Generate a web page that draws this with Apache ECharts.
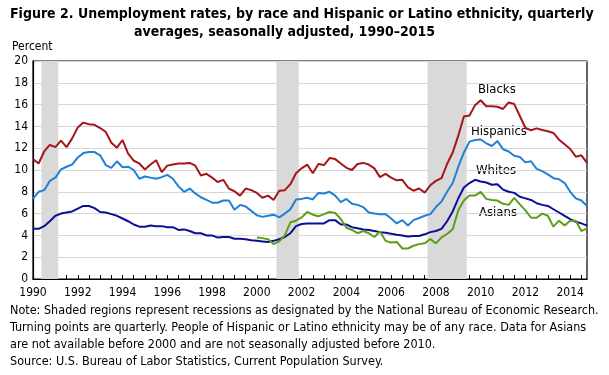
<!DOCTYPE html>
<html>
<head>
<meta charset="utf-8">
<script src="https://cdn.jsdelivr.net/npm/echarts@6/dist/echarts.min.js"></script>
<style>
  html, body { margin: 0; padding: 0; background: #fff; }
  #chart { width: 609px; height: 375px; }
</style>
</head>
<body>
<div id="chart"></div>
<script>
(function () {
  "use strict";
  const chart = echarts.init(document.getElementById("chart"));
  const FONT = "'Liberation Sans Narrow', 'DejaVu Sans Condensed', sans-serif";

  // quarterly averages, 1990 Q1 .. 2014 Q4 (100 quarters)
  const startYear = 1990;
  const yearTicks = [1990, 1992, 1994, 1996, 1998, 2000, 2002, 2004, 2006, 2008, 2010, 2012, 2014];
  const yTicks = [0, 2, 4, 6, 8, 10, 12, 14, 16, 18, 20];

  const blacks = [
    11.0, 10.6, 11.7, 12.3, 12.1, 12.7, 12.1, 12.9, 13.9, 14.35,
    14.2, 14.15, 13.85, 13.5, 12.5, 12.05, 12.75, 11.5, 10.85, 10.6,
    10.05, 10.5, 10.9, 9.8, 10.4, 10.5, 10.6, 10.6, 10.65, 10.4,
    9.5, 9.65, 9.3, 8.9, 9.1, 8.3,
    8.05, 7.65, 8.3, 8.15, 7.9, 7.45, 7.65, 7.25, 8.1, 8.15,
    8.7, 9.7, 10.15, 10.5, 9.7, 10.55, 10.45, 11.1, 11.0, 10.6,
    10.2, 10.0, 10.55, 10.65, 10.5, 10.15, 9.35, 9.65, 9.3, 9.05,
    9.1, 8.4, 8.1, 8.3,
    7.92, 8.6, 9.0, 9.25, 10.55, 11.6, 13.15, 14.9, 15.0, 15.95,
    16.4, 15.85, 15.85, 15.8, 15.6, 16.2, 16.05, 14.95, 13.85, 13.65,
    13.82, 13.67, 13.55, 13.4, 12.78, 12.36, 11.93, 11.22, 11.35, 10.65
  ];
  const hispanics = [
    7.35, 8.0, 8.15, 9.0, 9.3, 10.05, 10.3, 10.5, 11.15, 11.55,
    11.65, 11.65, 11.35, 10.45, 10.2, 10.8, 10.25, 10.3, 10.0, 9.2,
    9.4, 9.3, 9.2, 9.35, 9.55, 9.2, 8.5, 8.0, 8.3, 7.85,
    7.5, 7.25, 7.0, 7.0, 7.2, 7.2,
    6.35, 6.8, 6.65, 6.25, 5.85, 5.7, 5.8, 5.9, 5.65, 6.0,
    6.4, 7.3, 7.35, 7.45, 7.3, 7.9, 7.85, 8.0, 7.65, 7.05,
    7.35, 6.9, 6.8, 6.6, 6.1, 6.0, 5.95, 5.95, 5.55, 5.1,
    5.4, 4.9, 5.4, 5.6,
    5.8, 5.95, 6.6, 7.1, 8.0, 8.8, 10.3, 11.6, 12.6, 12.75,
    12.8, 12.45, 12.2, 12.65, 11.9, 11.7, 11.3, 11.2, 10.7, 10.8,
    10.1, 9.9, 9.6, 9.25, 9.15, 8.8, 8.0, 7.4, 7.2, 6.7
  ];
  const whites = [
    4.6, 4.6, 4.85, 5.3, 5.8, 6.0, 6.1, 6.2, 6.45, 6.7,
    6.7, 6.5, 6.15, 6.1, 5.95, 5.8, 5.55, 5.3, 5.0, 4.8,
    4.8, 4.9, 4.85, 4.85, 4.75, 4.75, 4.5, 4.55, 4.4, 4.2,
    4.2, 4.0, 4.0, 3.8, 3.85, 3.85,
    3.7, 3.7, 3.65, 3.55, 3.5, 3.45, 3.4, 3.5, 3.65, 3.85,
    4.2, 4.85, 5.05, 5.1, 5.1, 5.1, 5.1, 5.4, 5.4, 5.0,
    5.0, 4.75, 4.65, 4.55, 4.5, 4.4, 4.3, 4.25, 4.15, 4.05,
    4.0, 3.9, 3.95, 3.95,
    4.1, 4.3, 4.4, 4.6, 5.3, 6.2, 7.4, 8.4, 8.8, 9.1,
    8.95, 8.85, 8.65, 8.7, 8.2, 8.0, 7.9, 7.55, 7.4, 7.25,
    6.95, 6.8, 6.7, 6.4, 6.1, 5.8, 5.5, 5.25, 5.1, 4.9
  ];
  // Asians: not available before 2000 (starts at 2000 Q1)
  const asiansStart = 40;
  const asians = [
    3.8, 3.75, 3.65, 3.2, 3.45, 4.0, 5.2, 5.35, 5.65, 6.15,
    5.9, 5.75, 5.95, 6.15, 6.05, 5.5, 4.7, 4.5, 4.2, 4.4,
    4.2, 3.85, 4.35, 3.5, 3.35, 3.4, 2.8, 2.8, 3.05, 3.2,
    3.27, 3.67, 3.27, 3.82, 4.13, 4.56, 6.3, 7.2, 7.65, 7.65,
    8.0, 7.35, 7.25, 7.2, 6.9, 6.8, 7.45, 6.85, 6.3, 5.62,
    5.62, 6.0, 5.8, 4.8, 5.35, 4.9, 5.35, 5.35, 4.4, 4.65
  ];

  // NBER recessions, first and last quarter
  const recessions = [["1990Q3", "1991Q1"], ["2001Q1", "2001Q4"], ["2007Q4", "2009Q2"]];

  const qIndex = s => (+s.slice(0, 4) - startYear) * 4 + (+s.slice(5) - 1);
  const toPts = (arr, off) => arr.map((v, i) => [i + (off || 0), v]);

  const colors = { blacks: "#a3161a", hispanics: "#1f80d8", whites: "#0d0d96", asians: "#5c9e1b" };

  const line = (name, data, color) => ({
    name, type: "line", data, showSymbol: false, symbol: "none",
    lineStyle: { color, width: 2 }, itemStyle: { color }, z: 3,
  });

  const noteLines = [
    "Note: Shaded regions represent recessions as designated by the National Bureau of Economic Research.",
    "Turning points are quarterly. People of Hispanic or Latino ethnicity may be of any race. Data for Asians",
    "are not available before 2000 and are not seasonally adjusted before 2010.",
    "Source: U.S. Bureau of Labor Statistics, Current Population Survey.",
  ];

  const txt = (text, x, y, size) => ({
    type: "text", left: x, top: y,
    style: { text, fill: "#000", font: `${size || 12}px ${FONT}` },
  });

  chart.setOption({
    animation: false,
    title: [
      { text: "Figure 2. Unemployment rates, by race and Hispanic or Latino ethnicity, quarterly",
        left: 10, top: 7, padding: 0,
        textStyle: { fontFamily: FONT, fontWeight: "bold", fontSize: 14, color: "#000" } },
      { text: "averages, seasonally adjusted, 1990\u20132015",
        left: 134, top: 25, padding: 0,
        textStyle: { fontFamily: FONT, fontWeight: "bold", fontSize: 14, color: "#000" } },
    ],
    grid: { left: 33, right: 22, top: 61, bottom: 96, show: true, borderColor: "#000", borderWidth: 1.2,
            backgroundColor: "transparent" },
    xAxis: {
      type: "value", min: 0, max: 99, interval: 2,
      axisLine: { show: true, lineStyle: { color: "#000", width: 1.2 } },
      axisTick: { show: true, inside: true, length: 4, lineStyle: { color: "#000" } },
      axisLabel: {
        color: "#000", fontFamily: FONT, fontSize: 12, margin: 8, showMaxLabel: false,
        formatter: v => (v % 8 === 0 ? String(startYear + v / 4) : ""),
      },
      splitLine: { show: false },
    },
    yAxis: {
      type: "value", min: 0, max: 20, interval: 2,
      name: "Percent", nameLocation: "end", nameGap: 8,
      nameTextStyle: { color: "#000", fontFamily: FONT, fontSize: 12, align: "left", padding: [0, 0, 0, -21] },
      axisLine: { show: true, lineStyle: { color: "#000", width: 1.2 } },
      axisTick: { show: false },
      axisLabel: { color: "#000", fontFamily: FONT, fontSize: 12, margin: 5 },
      splitLine: { lineStyle: { color: "#d6d6d6", width: 1 } },
    },
    series: [
      Object.assign(line("Blacks", toPts(blacks), colors.blacks), {
        markArea: {
          silent: true,
          itemStyle: { color: "#d9d9d9" },
          data: recessions.map(([a, b]) => [{ xAxis: qIndex(a) - 0.5 }, { xAxis: qIndex(b) + 0.5 }]),
        },
      }),
      line("Hispanics", toPts(hispanics), colors.hispanics),
      line("Whites", toPts(whites), colors.whites),
      line("Asians", toPts(asians, asiansStart), colors.asians),
    ],
    graphic: [
      txt("Blacks", 478, 83, 13),
      txt("Hispanics", 471, 125, 13),
      txt("Whites", 476, 164, 13),
      txt("Asians", 479, 206, 13),
    ].concat(noteLines.map((t, i) => txt(t, 10, 304 + i * 17, 12.5))),
  });

  window.addEventListener("resize", () => chart.resize());
})();
</script>
</body>
</html>
